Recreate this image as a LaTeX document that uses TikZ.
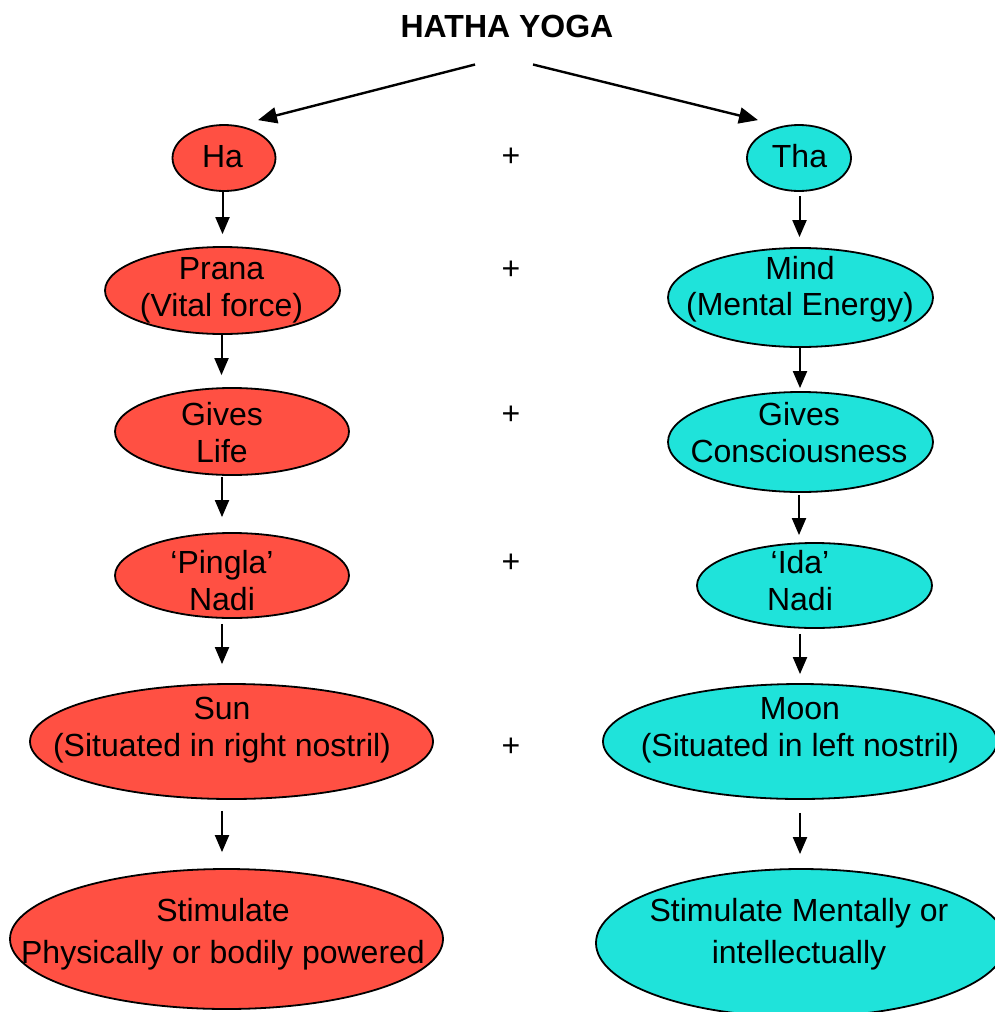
\documentclass[tikz,border=0pt]{standalone}
\usepackage{fontspec}
\setmainfont{Liberation Sans}
\usetikzlibrary{shapes.geometric,arrows.meta}
\definecolor{hared}{HTML}{FF5043}
\definecolor{thacyan}{HTML}{1FE3DA}
\begin{document}
\begin{tikzpicture}[x=1pt,y=-1pt,
  ell/.style={ellipse, draw=black, line width=1.8pt, inner sep=0pt},
  redell/.style={ell, fill=hared},
  cyanell/.style={ell, fill=thacyan},
  txt/.style={font=\fontsize{32}{38}\selectfont, inner sep=0pt, anchor=base},
  plus/.style={font=\fontsize{32}{38}\selectfont, inner sep=0pt, anchor=center},
  arr/.style={line width=2pt, -{Triangle[length=17pt,width=14pt]}},
  toparr/.style={line width=2.4pt, -{Triangle[length=19pt,width=16pt]}}
]
\useasboundingbox (0,0) rectangle (995,1012);
\clip (0,0) rectangle (995,1012);

% ellipses
\node[redell, minimum width=103pt, minimum height=66pt] (ha) at (224,158) {};
\node[cyanell, minimum width=104pt, minimum height=66pt] (tha) at (799,158) {};
\node[redell, minimum width=235pt, minimum height=87pt] (prana) at (222.5,290.5) {};
\node[cyanell, minimum width=265pt, minimum height=99pt] (mind) at (800.5,297.5) {};
\node[redell, minimum width=234pt, minimum height=87pt] (life) at (232,431.5) {};
\node[cyanell, minimum width=265pt, minimum height=100pt] (cons) at (800.5,442) {};
\node[redell, minimum width=234pt, minimum height=85pt] (pingla) at (232,575.5) {};
\node[cyanell, minimum width=235pt, minimum height=85pt] (ida) at (814.5,585.5) {};
\node[redell, minimum width=403pt, minimum height=115pt] (sun) at (231.5,741.5) {};
\node[cyanell, minimum width=394pt, minimum height=115pt] (moon) at (800,741.5) {};
\node[redell, minimum width=433pt, minimum height=140pt] (stimL) at (226.5,939) {};
\node[cyanell, minimum width=410pt, minimum height=148pt] (stimR) at (801,943) {};

% texts
\node[txt] (title) at (507,37) {\bfseries HATHA YOGA};
\node[txt] (haT) at (222.5,167) {Ha};
\node[txt] (thaT) at (799.5,167) {Tha};
\node[txt] (pranaT) at (221.5,279) {Prana};
\node[txt] (pranaT2) at (221.5,316) {(Vital force)};
\node[txt] (mindT) at (800,279) {Mind};
\node[txt] (mindT2) at (800,315) {(Mental Energy)};
\node[txt] (lifeT) at (222,425) {Gives};
\node[txt] (lifeT2) at (222,462) {Life};
\node[txt] (consT) at (799,425) {Gives};
\node[txt] (consT2) at (799,462) {Consciousness};
\node[txt] (pinglaT) at (222,573) {‘Pingla’};
\node[txt] (pinglaT2) at (222,610) {Nadi};
\node[txt] (idaT) at (800,573) {‘Ida’};
\node[txt] (idaT2) at (800,610) {Nadi};
\node[txt] (sunT) at (222,719) {Sun};
\node[txt] (sunT2) at (222,756) {(Situated in right nostril)};
\node[txt] (moonT) at (800,719) {Moon};
\node[txt] (moonT2) at (800,756) {(Situated in left nostril)};
\node[txt] (stimLT) at (223,921) {Stimulate};
\node[txt] (stimLT2) at (223,963) {Physically or bodily powered};
\node[txt] (stimRT) at (799,921) {Stimulate Mentally or};
\node[txt] (stimRT2) at (799,963) {intellectually};

% plus signs
\node[plus] (p1) at (511,157) {+};
\node[plus] (p2) at (511,270) {+};
\node[plus] (p3) at (511,415) {+};
\node[plus] (p4) at (511,563) {+};
\node[plus] (p5) at (511,747) {+};

% top arrows
\coordinate (tl) at ([xshift=-32pt,yshift=-27pt]title.south);
\coordinate (tr) at ([xshift=26pt,yshift=-27pt]title.south);
\coordinate (hatip) at ([xshift=34pt,yshift=4pt]ha.north);
\coordinate (thatip) at ([xshift=-41pt,yshift=4pt]tha.north);
\draw[toparr] (tl) -- (hatip);
\draw[toparr] (tr) -- (thatip);

% left column arrows
\draw[arr] (ha.south -| haT) -- ([yshift=12pt]prana.north -| haT);
\draw[arr] (prana.south -| pranaT) -- ([yshift=12pt]life.north -| pranaT);
\draw[arr] ([yshift=-1pt]life.south -| lifeT) -- ([yshift=15pt]pingla.north -| lifeT);
\draw[arr] ([yshift=-5pt]pingla.south -| pinglaT) -- ([yshift=19pt]sun.north -| pinglaT);
\draw[arr] ([yshift=-11pt]sun.south -| sunT) -- ([yshift=16pt]stimL.north -| sunT);

% right column arrows
\draw[arr] ([yshift=-4pt]tha.south -| thaT) -- ([yshift=10pt]mind.north -| thaT);
\draw[arr] (mind.south -| mindT) -- ([yshift=3pt]cons.north -| mindT);
\draw[arr] ([yshift=-2pt]cons.south -| consT) -- ([yshift=7pt]ida.north -| consT);
\draw[arr] ([yshift=-5pt]ida.south -| idaT) -- ([yshift=9pt]moon.north -| idaT);
\draw[arr] ([yshift=-13pt]moon.south -| moonT) -- ([yshift=14pt]stimR.north -| moonT);
\end{tikzpicture}
\end{document}
